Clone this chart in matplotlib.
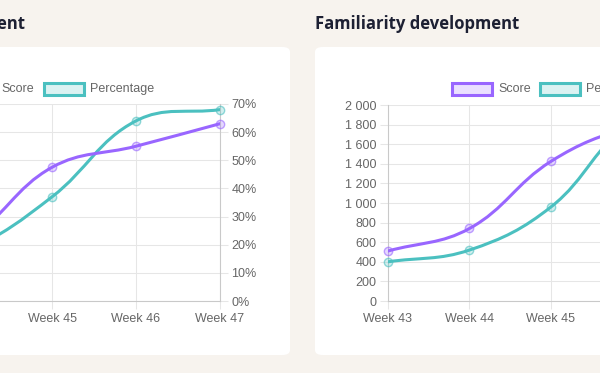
import numpy as np
import matplotlib
matplotlib.use("Agg")
import matplotlib.pyplot as plt
from matplotlib.path import Path
from matplotlib.patches import PathPatch, FancyBboxPatch, Rectangle
from matplotlib.ticker import FuncFormatter, MultipleLocator

plt.rcParams['font.family'] = ['Liberation Sans', 'DejaVu Sans']

# data
weeks = ['Week 43', 'Week 44', 'Week 45', 'Week 46', 'Week 47']
aware_score = [12, 22, 47.5, 55, 63]
aware_pct = [10, 18, 37, 64, 68]
famil_score = [510, 740, 1425, 1780, 1900]
famil_pct = [400, 520, 960, 1820, 1960]

PURPLE = '#9966ff'
TEAL = '#4bc0c0'
GRID = '#e6e6e6'
TXT = '#666666'

W, H = 600, 373
fig = plt.figure(figsize=(W / 100, H / 100), dpi=100)
fig.patch.set_facecolor('#f7f3ee')


def px(x, y):
    # pixel (top-left origin) -> figure fraction
    return x / W, 1 - y / H


def card(x0, y0, x1, y1):
    fx, fy = px(x0, y1)
    p = FancyBboxPatch((fx, fy), (x1 - x0) / W, (y1 - y0) / H,
                       boxstyle="round,pad=0,rounding_size=0.013",
                       transform=fig.transFigure, facecolor='white',
                       edgecolor='none', zorder=-1)
    fig.patches.append(p)


def spline(ax, xs, ys, color, tension=0.4):
    """chart.js style bezier through the points"""
    pts = ax.transData.transform(np.column_stack([xs, ys]))
    n = len(pts)
    cps = []
    for i in range(n):
        cur = pts[i]
        prev = pts[i - 1] if i > 0 else cur
        nxt = pts[i + 1] if i < n - 1 else cur
        d01 = np.hypot(*(cur - prev))
        d12 = np.hypot(*(nxt - cur))
        tot = d01 + d12
        s01 = d01 / tot if tot else 0
        s12 = d12 / tot if tot else 0
        cps.append((cur - tension * s01 * (nxt - prev),
                    cur + tension * s12 * (nxt - prev)))
    verts = [pts[0]]
    codes = [Path.MOVETO]
    for i in range(n - 1):
        verts += [cps[i][1], cps[i + 1][0], pts[i + 1]]
        codes += [Path.CURVE4] * 3
    verts = ax.transData.inverted().transform(np.array(verts))
    ax.add_patch(PathPatch(Path(verts, codes), facecolor='none', edgecolor=color,
                           lw=2.2, zorder=3, capstyle='round', joinstyle='round'))
    # hollow-ish point markers
    ax.plot(xs, ys, 'o', ms=6, mfc=color + '40', mec=color + '99', mew=1.0,
            zorder=4, clip_on=False)


def style_axes(ax, side):
    ax.set_facecolor('none')
    ax.set_xlim(0, len(weeks) - 1)
    ax.set_xticks(range(len(weeks)))
    ax.set_xticklabels(weeks)
    ax.grid(True, color=GRID, lw=0.75)
    ax.set_axisbelow(True)
    for s in ax.spines.values():
        s.set_visible(False)
    ax.spines['bottom'].set_visible(True)
    ax.spines[side].set_visible(True)
    ax.spines['bottom'].set_color('#c9c9c9')
    ax.spines[side].set_color('#c9c9c9')
    ax.tick_params(axis='both', colors=GRID, labelcolor=TXT, labelsize=9,
                   length=5.8, width=0.75)
    ax.tick_params(axis='x', pad=3)
    ax.tick_params(axis='y', pad=2.5)
    if side == 'right':
        ax.yaxis.tick_right()


def legend_item(x, y, color, label):
    fx, fy = px(x, y + 6)
    fig.patches.append(Rectangle((fx, fy), 40 / W, 12 / H, transform=fig.transFigure,
                                 facecolor=color + '33', edgecolor=color, lw=2.2))
    fig.text((x + 46) / W, 1 - y / H, label, fontsize=9, color=TXT,
             va='center', ha='left')


# cards
card(-30, 47, 290, 355)
card(315, 47, 630, 355)

# titles
title_kw = dict(fontsize=12, fontweight='bold', color='#1d2033',
                family=['Open Sans', 'DejaVu Sans'], va='baseline')
fig.text(25 / W, 1 - 29 / H, 'Awareness development', ha='right', **title_kw)
fig.text(315 / W, 1 - 29 / H, 'Familiarity development', ha='left', **title_kw)

# left chart
l, r, t, b = -116, 220, 104, 301
ax1 = fig.add_axes([l / W, 1 - b / H, (r - l) / W, (b - t) / H])
style_axes(ax1, 'right')
ax1.set_ylim(0, 70)
ax1.yaxis.set_major_locator(MultipleLocator(10))
ax1.yaxis.set_major_formatter(FuncFormatter(lambda v, _: f'{v:.0f}%'))
spline(ax1, range(len(weeks)), aware_pct, TEAL)
spline(ax1, range(len(weeks)), aware_score, PURPLE)

# right chart
l, r, t, b = 388, 714, 105, 301
ax2 = fig.add_axes([l / W, 1 - b / H, (r - l) / W, (b - t) / H])
style_axes(ax2, 'left')
ax2.set_ylim(0, 2000)
ax2.yaxis.set_major_locator(MultipleLocator(200))
ax2.yaxis.set_major_formatter(FuncFormatter(lambda v, _: f'{v:,.0f}'.replace(',', ' ')))
spline(ax2, range(len(weeks)), famil_pct, TEAL)
spline(ax2, range(len(weeks)), famil_score, PURPLE)

# legends
legend_item(-45, 89, PURPLE, 'Score')
legend_item(44, 89, TEAL, 'Percentage')
legend_item(452, 89, PURPLE, 'Score')
legend_item(540, 89, TEAL, 'Percentage')

fig.savefig('out.png', dpi=100, facecolor=fig.get_facecolor())
